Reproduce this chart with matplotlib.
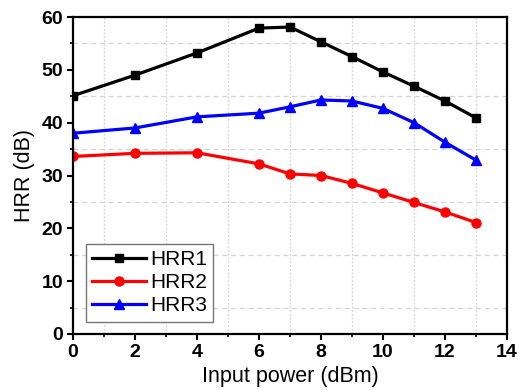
import matplotlib
matplotlib.use("Agg")
import matplotlib.pyplot as plt
from matplotlib.ticker import MultipleLocator

plt.rcParams['font.family'] = ['Liberation Sans', 'DejaVu Sans']

power = [0, 2, 4, 6, 7, 8, 9, 10, 11, 12, 13]
hrr1 = [45.1, 49.0, 53.2, 57.9, 58.1, 55.3, 52.5, 49.6, 46.9, 44.1, 40.9]
hrr2 = [33.6, 34.2, 34.3, 32.2, 30.3, 30.0, 28.5, 26.7, 24.9, 23.1, 21.1]
hrr3 = [38.0, 39.0, 41.1, 41.8, 43.0, 44.3, 44.1, 42.7, 40.0, 36.3, 32.9]

fig = plt.figure(figsize=(5.23, 3.9), dpi=100)
ax = fig.add_axes([73 / 523, 1 - 334 / 390, 434 / 523, 317 / 390])

ax.plot(power, hrr1, color='black', marker='s', lw=2.3, ms=6, label='HRR1')
ax.plot(power, hrr2, color='red', marker='o', lw=2.3, ms=6.5, label='HRR2')
ax.plot(power, hrr3, color='blue', marker='^', lw=2.3, ms=7.5, label='HRR3')

ax.set_xlim(0, 14)
ax.set_ylim(0, 60)
ax.xaxis.set_major_locator(MultipleLocator(2))
ax.xaxis.set_minor_locator(MultipleLocator(1))
ax.yaxis.set_major_locator(MultipleLocator(10))
ax.yaxis.set_minor_locator(MultipleLocator(5))

# grid only on the minor ticks
ax.grid(False)
ax.xaxis.grid(True, which='minor', color='#d4d4d4', linestyle=(0, (1.5, 1.5)), lw=0.9)
ax.yaxis.grid(True, which='minor', color='#d4d4d4', linestyle=(0, (4, 3)), lw=0.9)
ax.set_axisbelow(True)

for s in ax.spines.values():
    s.set_linewidth(1.6)

ax.tick_params(which='major', direction='out', length=4, width=1.5,
               labelsize=14, pad=3)
ax.tick_params(which='minor', direction='out', length=2.5, width=1.2)
for lab in ax.get_xticklabels() + ax.get_yticklabels():
    lab.set_fontweight('bold')

ax.set_xlabel('Input power (dBm)', fontsize=15.5, labelpad=4)
ax.set_ylabel('HRR (dB)', fontsize=15.5, labelpad=5)

leg = ax.legend(loc='lower left', fontsize=15, fancybox=False, framealpha=1,
                edgecolor='#777777', handlelength=2.6, handletextpad=0.2,
                borderpad=0.3, labelspacing=0.2, borderaxespad=0.6)
leg.get_frame().set_linewidth(1.0)

fig.savefig('out.png', dpi=100)
